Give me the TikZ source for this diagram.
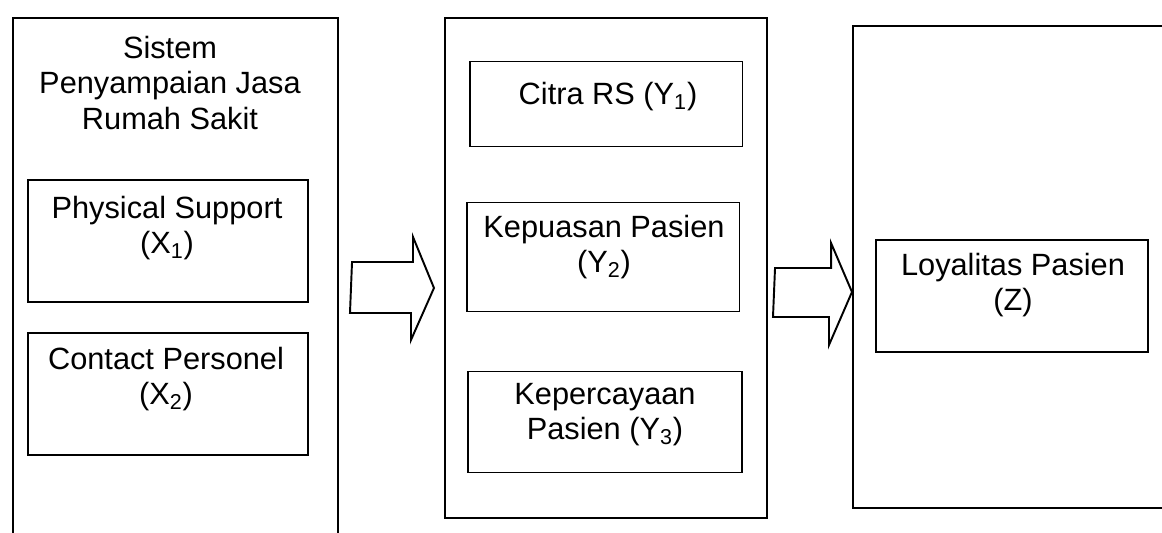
\documentclass[tikz,border=0pt]{standalone}
\usepackage{fontspec}
\setmainfont{Liberation Sans}
\usetikzlibrary{calc}

\tikzset{
  bingkai/.style={draw,line width=1.2pt,inner sep=0pt},
  kotak/.style={draw,line width=1.1pt,inner sep=0pt},
  teks/.style={align=center,inner sep=0pt,font=\fontsize{17.5}{20}\selectfont},
  panah/.style={line width=1.1pt,line join=miter}
}

\begin{document}
\begin{tikzpicture}[x=0.02cm,y=-0.02cm]
\useasboundingbox (0,0) rectangle (1162,533);
\clip (0,0) rectangle (1162,533);

% kolom X
\node[bingkai,minimum width=6.5cm,minimum height=10.84cm] (sistem) at (175.5,289) {};
\node[teks] (judul) at (170,83) {Sistem\\Penyampaian Jasa\\Rumah Sakit};
\node[kotak,minimum width=5.6cm,minimum height=2.44cm] (x1) at (168,241) {};
\node[teks] (x1t) at ($(x1)+(-1,-13)$) {Physical Support\\(X\textsubscript{1})};
\node[kotak,minimum width=5.6cm,minimum height=2.44cm] (x2) at (168,394) {};
\node[teks] (x2t) at ($(x2)+(-2,-15)$) {Contact Personel\\(X\textsubscript{2})};

% kolom Y
\node[bingkai,minimum width=6.44cm,minimum height=10cm] (antara) at (606,268) {};
\node[kotak,minimum width=5.46cm,minimum height=1.7cm] (y1) at (606,104) {};
\node[teks] (y1t) at ($(y1)+(2,-7)$) {Citra RS (Y\textsubscript{1})};
\node[kotak,minimum width=5.46cm,minimum height=2.18cm] (y2) at (603,257) {};
\node[teks] (y2t) at ($(y2)+(1,-10)$) {Kepuasan Pasien\\(Y\textsubscript{2})};
\node[kotak,minimum width=5.48cm,minimum height=2.02cm] (y3) at (605,422) {};
\node[teks] (y3t) at ($(y3)+(0,-7)$) {Kepercayaan\\Pasien (Y\textsubscript{3})};

% kolom Z
\node[bingkai,minimum width=6.54cm,minimum height=9.64cm] (hasil) at (1016.5,267) {};
\node[kotak,minimum width=5.44cm,minimum height=2.24cm] (z) at (1012,296) {};
\node[teks] (zt) at ($(z)+(1,-11)$) {Loyalitas Pasien\\(Z)};

% panah blok
\coordinate (p1a) at ($(sistem.east |- 0,288)+(13,0)$);
\coordinate (p1b) at ($(antara.west |- 0,288)+(-10,0)$);
\draw[panah] (p1a) ++(0,-26) -- ++(61,0) -- ++(0,-25) -- (p1b) -- ++(-23,52) -- ++(0,-27) -- ++(-61,0) -- cycle;

\coordinate (p2a) at ($(antara.east |- 0,292)+(7,0)$);
\coordinate (p2b) at (hasil.west |- 0,292);
\draw[panah] (p2a) ++(0,-24) -- ++(56,0) -- ++(0,-25) -- (p2b) -- ++(-23,53) -- ++(0,-28) -- ++(-56,0) -- cycle;

\end{tikzpicture}
\end{document}
